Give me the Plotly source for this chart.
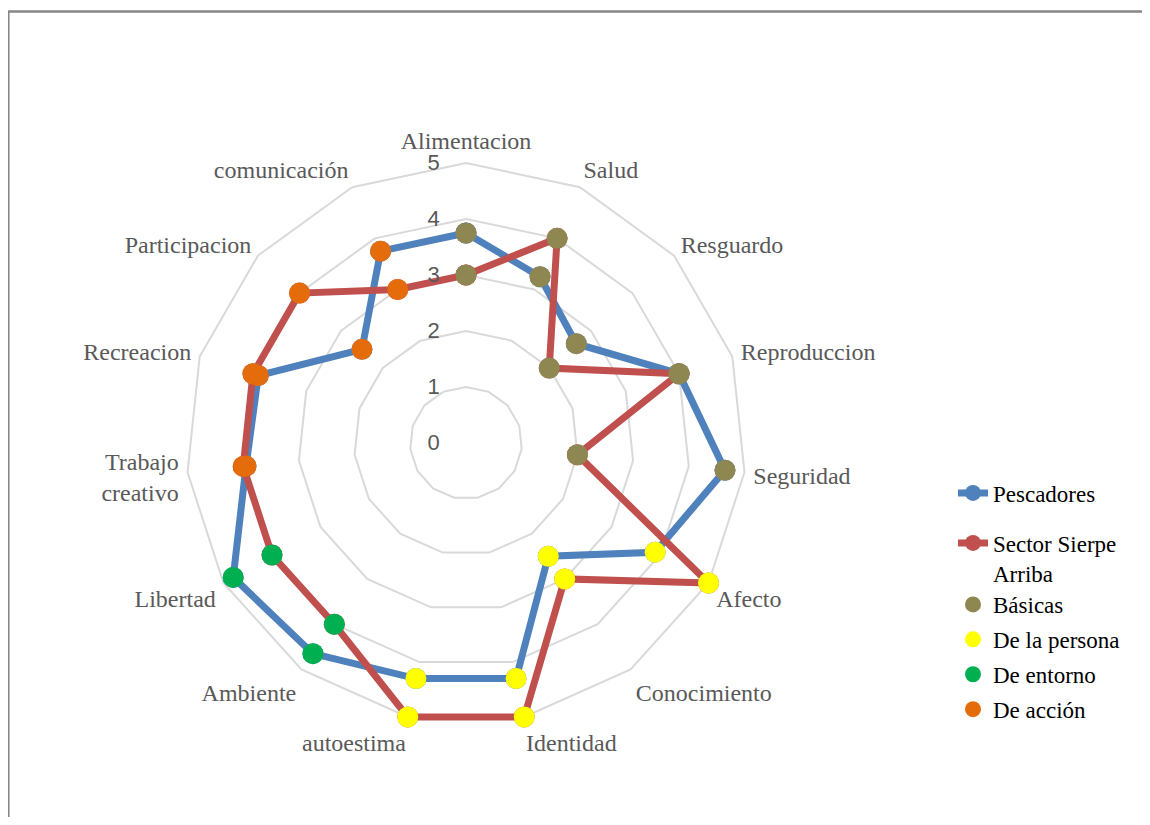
import plotly.graph_objects as go

categories = ["Alimentacion", "Salud", "Resguardo", "Reproduccion", "Seguridad",
              "Afecto", "Conocimiento", "Identidad", "autoestima", "Ambiente",
              "Libertad", "Trabajo<br>creativo", "Recreacion", "Participacion", "comunicación"]

pescadores = [3.75, 3.25, 2.65, 4.0, 4.65, 3.9, 2.5, 4.3, 4.3, 4.65, 4.8, 3.95, 3.9, 2.5, 3.75]
sierpe = [3.0, 4.0, 2.0, 4.0, 2.0, 5.0, 3.0, 5.0, 5.0, 4.0, 4.0, 4.0, 4.0, 4.0, 3.0]

groups = {
    "Básicas": categories[0:5],
    "De la persona": categories[5:9],
    "De entorno": categories[9:11],
    "De acción": categories[11:15],
}
group_colors = {
    "Básicas": "#8F8752",
    "De la persona": "#FFFF00",
    "De entorno": "#00B050",
    "De acción": "#E46C0A",
}
tick_vals = [0, 1, 2, 3, 4, 5]

MS = 21
LW = 7
fig = go.Figure()
fig.add_trace(go.Scatterpolar(
    r=pescadores + pescadores[:1], theta=categories + categories[:1],
    mode="lines+markers", name="Pescadores",
    line=dict(color="#4F81BD", width=LW), marker=dict(size=MS, color="#4F81BD"),
    legend="legend"))
fig.add_trace(go.Scatterpolar(
    r=sierpe + sierpe[:1], theta=categories + categories[:1],
    mode="lines+markers", name="Sector Sierpe<br>Arriba",
    line=dict(color="#C0504D", width=LW), marker=dict(size=MS, color="#C0504D"),
    legend="legend2"))

for gname, cats in groups.items():
    idx = [categories.index(c) for c in cats]
    r = [pescadores[i] for i in idx] + [sierpe[i] for i in idx]
    th = cats + cats
    fig.add_trace(go.Scatterpolar(
        r=r, theta=th, mode="markers", name=gname,
        marker=dict(size=MS, color=group_colors[gname]),
        legend="legend3", legendgroup=gname))

# page has an 8px body margin: div coords = page coords - 8
OFF = 8
W, H = 1142, 809
cx, cy, R5 = 466 - OFF, 443 - OFF, 280
RMAX = 5.15
R = R5 * RMAX / 5
legend_font = dict(family="Liberation Serif", size=23, color="black")
LX = 945
fig.update_layout(
    width=W, height=H,
    margin=dict(l=0, r=0, t=0, b=0),
    paper_bgcolor="white", plot_bgcolor="white",
    showlegend=True,
    polar=dict(
        domain=dict(x=[(cx - R) / W, (cx + R) / W], y=[(H - cy - R) / H, (H - cy + R) / H]),
        gridshape="linear",
        bgcolor="white",
        radialaxis=dict(range=[0, RMAX], tickvals=tick_vals, angle=90, tickangle=90,
                        side="counterclockwise",
                        showline=False, ticks="outside", ticklen=18,
                        tickcolor="rgba(0,0,0,0)",
                        gridcolor="#D9D9D9", gridwidth=1.5,
                        tickfont=dict(family="Liberation Sans", size=22, color="#595959")),
        angularaxis=dict(rotation=90, direction="clockwise", showgrid=False,
                         showline=False, ticks="",
                         tickfont=dict(family="Liberation Serif", size=24, color="#595959")),
    ),
    legend=dict(x=LX / W, y=1 - (493 - OFF) / H, xanchor="left", yanchor="middle",
                font=legend_font, bgcolor="rgba(0,0,0,0)"),
    legend2=dict(x=LX / W, y=1 - (558 - OFF) / H, xanchor="left", yanchor="middle",
                 font=legend_font, bgcolor="rgba(0,0,0,0)", valign="top"),
    legend3=dict(x=LX / W, y=1 - (657 - OFF) / H, xanchor="left", yanchor="middle",
                 font=legend_font, bgcolor="rgba(0,0,0,0)", tracegroupgap=2),
    shapes=[dict(type="rect", xref="paper", yref="paper",
                 x0=0.3 / W, x1=1.05, y0=-0.05, y1=1 - 3.5 / H,
                 line=dict(color="#878787", width=2.5))],
)

fig.write_html("out.html")
